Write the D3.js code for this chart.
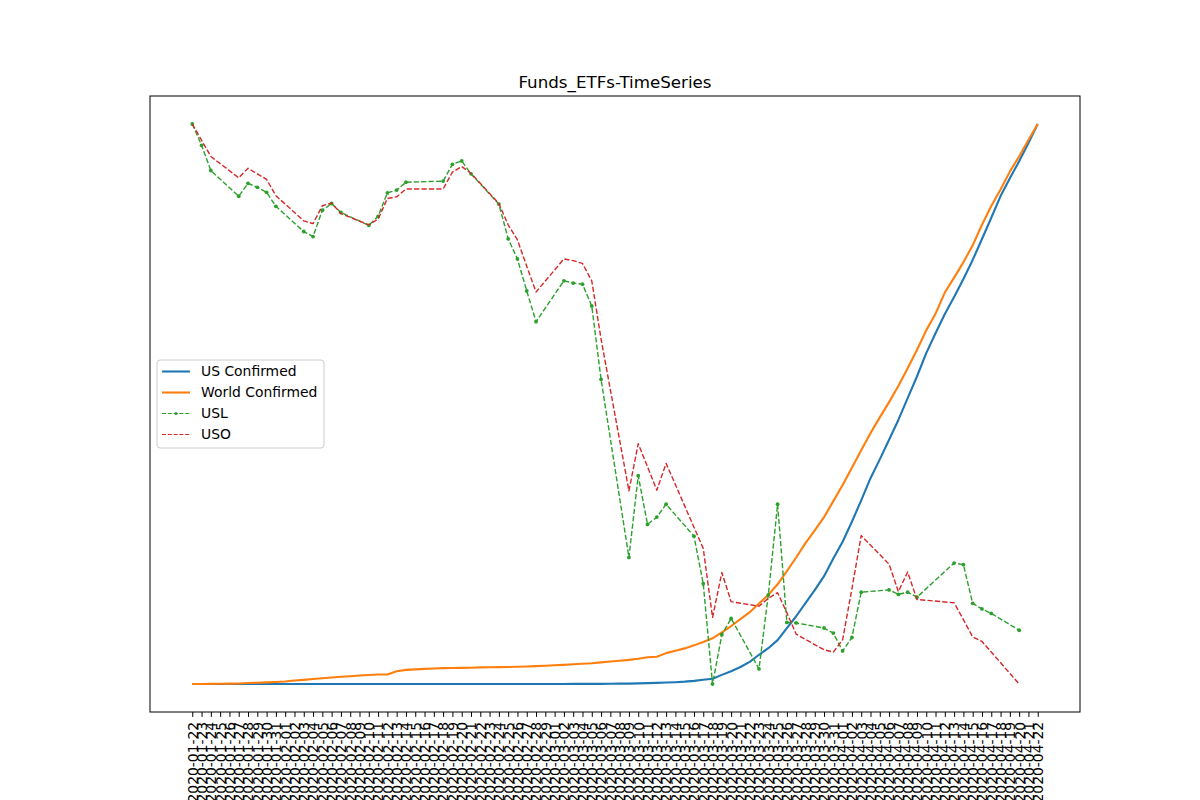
<!DOCTYPE html>
<html>
<head>
<meta charset="utf-8">
<script src="https://cdn.jsdelivr.net/npm/d3@7"></script>
<style>
  body { margin: 0; background: #fff; }
  text { font-family: "DejaVu Sans", sans-serif; }
</style>
</head>
<body>
<div id="chart"></div>
<script>
// every calendar day on the axis
const dates = [
  "2020-01-22","2020-01-23","2020-01-24","2020-01-25","2020-01-26","2020-01-27","2020-01-28","2020-01-29","2020-01-30","2020-01-31",
  "2020-02-01","2020-02-02","2020-02-03","2020-02-04","2020-02-05","2020-02-06","2020-02-07","2020-02-08","2020-02-09","2020-02-10",
  "2020-02-11","2020-02-12","2020-02-13","2020-02-14","2020-02-15","2020-02-16","2020-02-17","2020-02-18","2020-02-19","2020-02-20",
  "2020-02-21","2020-02-22","2020-02-23","2020-02-24","2020-02-25","2020-02-26","2020-02-27","2020-02-28","2020-02-29",
  "2020-03-01","2020-03-02","2020-03-03","2020-03-04","2020-03-05","2020-03-06","2020-03-07","2020-03-08","2020-03-09","2020-03-10",
  "2020-03-11","2020-03-12","2020-03-13","2020-03-14","2020-03-15","2020-03-16","2020-03-17","2020-03-18","2020-03-19","2020-03-20",
  "2020-03-21","2020-03-22","2020-03-23","2020-03-24","2020-03-25","2020-03-26","2020-03-27","2020-03-28","2020-03-29","2020-03-30",
  "2020-03-31","2020-04-01","2020-04-02","2020-04-03","2020-04-04","2020-04-05","2020-04-06","2020-04-07","2020-04-08","2020-04-09",
  "2020-04-10","2020-04-11","2020-04-12","2020-04-13","2020-04-14","2020-04-15","2020-04-16","2020-04-17","2020-04-18","2020-04-19",
  "2020-04-20","2020-04-21","2020-04-22"
];

// cumulative confirmed cases (raw counts, min-max scaled below)
const usConfirmed = [
  1,1,2,2,5,5,5,5,5,7,
  8,8,11,11,11,11,11,11,11,11,12,12,13,13,13,13,13,13,13,13,15,15,15,51,51,57,58,60,68,
  74,98,118,149,217,262,402,518,583,959,1281,1663,2179,2727,3499,4632,6421,7786,13680,19101,
  25493,33276,43847,53740,65778,83836,101657,121478,140886,161807,188172,
  213372,243453,275586,308850,337072,366614,396223,429052,461437,496535,526396,555313,580619,
  607670,636350,667801,699706,732197,759086,784326,811865,840351
];
const worldConfirmed = [
  555,654,941,1434,2118,2927,5578,6166,8234,9927,
  12038,16787,19881,23892,27635,30817,34391,37120,40150,42762,44802,45221,60368,66885,69030,
  71224,73258,75136,75639,76197,76819,78572,78958,79561,80406,81388,82746,84112,86011,
  88369,90306,92840,95120,97886,101801,105847,109821,113590,118620,125875,128352,145205,156101,
  167454,181574,197102,214821,242570,272208,304507,336953,378235,418045,467653,529591,593291,
  660706,720117,782365,857487,
  932605,1013466,1095917,1176060,1249754,1321481,1396476,1480202,1565278,1657526,1735650,
  1834721,1904838,1976191,2056054,2152437,2240190,2317758,2401378,2472259,2549123,2624532
];

// trading days for the two funds
const tradeDates = [
  "2020-01-22","2020-01-23","2020-01-24","2020-01-27","2020-01-28","2020-01-29","2020-01-30","2020-01-31",
  "2020-02-03","2020-02-04","2020-02-05","2020-02-06","2020-02-07","2020-02-10","2020-02-11","2020-02-12",
  "2020-02-13","2020-02-14","2020-02-18","2020-02-19","2020-02-20","2020-02-21","2020-02-24","2020-02-25",
  "2020-02-26","2020-02-27","2020-02-28",
  "2020-03-02","2020-03-03","2020-03-04","2020-03-05","2020-03-06","2020-03-09","2020-03-10","2020-03-11",
  "2020-03-12","2020-03-13","2020-03-16","2020-03-17","2020-03-18","2020-03-19","2020-03-20","2020-03-23",
  "2020-03-24","2020-03-25","2020-03-26","2020-03-27","2020-03-30","2020-03-31",
  "2020-04-01","2020-04-02","2020-04-03","2020-04-06","2020-04-07","2020-04-08","2020-04-09","2020-04-13",
  "2020-04-14","2020-04-15","2020-04-16","2020-04-17","2020-04-20"
];

// normalized fund prices (0..1)
const usl = [
  1.000,0.962,0.917,0.871,0.894,0.887,0.878,0.853,
  0.808,0.799,0.846,0.858,0.842,0.819,0.835,0.877,0.882,0.896,0.898,0.928,0.934,0.911,0.857,0.795,0.759,0.702,0.647,
  0.720,0.716,0.714,0.675,0.544,0.226,0.372,0.285,0.298,0.321,0.264,0.179,0.000,0.088,0.117,0.027,0.159,0.321,0.110,0.109,0.100,0.091,
  0.059,0.083,0.164,0.168,0.160,0.164,0.155,0.216,0.213,0.144,0.134,0.126,0.096
];
const uso = [
  1.000,0.971,0.942,0.904,0.921,0.911,0.901,0.872,
  0.827,0.822,0.854,0.859,0.840,0.820,0.830,0.867,0.870,0.884,0.884,0.914,0.924,0.912,0.858,0.820,0.793,0.746,0.700,
  0.759,0.756,0.751,0.720,0.616,0.345,0.429,0.388,0.346,0.394,0.280,0.242,0.119,0.199,0.147,0.139,0.153,0.163,0.127,0.089,0.061,0.057,
  0.079,0.170,0.265,0.214,0.165,0.200,0.151,0.145,0.115,0.084,0.076,0.057,0.000
];

let margin = { top: 96, right: 120, bottom: 88, left: 150 };
let width = 1200 - margin.left - margin.right;
let height = 800 - margin.top - margin.bottom;

let svg = d3
  .select("#chart")
  .append("svg")
  .attr("width", 1200)
  .attr("height", 800)
  .append("g")
  .attr("transform", "translate(" + margin.left + "," + margin.top + ")");

// matplotlib-like 5% margins on both axes
let x = d3.scalePoint().domain(dates).range([0, width]).padding(4.55);
let y = d3.scaleLinear().domain([-0.05, 1.05]).range([height, 0]);

let usNorm = d3.scaleLinear().domain(d3.extent(usConfirmed)).range([0, 1]);
let worldNorm = d3.scaleLinear().domain(d3.extent(worldConfirmed)).range([0, 1]);

let series = [
  { name: "US Confirmed", color: "#1f77b4", width: 2.1, dash: null, dot: false,
    pts: dates.map((d, i) => [d, usNorm(usConfirmed[i])]) },
  { name: "World Confirmed", color: "#ff7f0e", width: 2.1, dash: null, dot: false,
    pts: dates.map((d, i) => [d, worldNorm(worldConfirmed[i])]) },
  { name: "USL", color: "#2ca02c", width: 1.4, dash: "5.2,2.2", dot: true,
    pts: tradeDates.map((d, i) => [d, usl[i]]) },
  { name: "USO", color: "#d62728", width: 1.4, dash: "5.2,2.2", dot: false,
    pts: tradeDates.map((d, i) => [d, uso[i]]) }
];

let line = d3.line().x((d) => x(d[0])).y((d) => y(d[1]));

series.forEach((s) => {
  svg.append("path")
    .datum(s.pts)
    .attr("fill", "none")
    .attr("stroke", s.color)
    .attr("stroke-width", s.width)
    .attr("stroke-dasharray", s.dash)
    .attr("stroke-linejoin", "round")
    .attr("d", line);
  if (s.dot) {
    svg.selectAll(null)
      .data(s.pts)
      .enter()
      .append("circle")
      .attr("cx", (d) => x(d[0]))
      .attr("cy", (d) => y(d[1]))
      .attr("r", 1.9)
      .attr("fill", s.color);
  }
});

// frame
svg.append("rect")
  .attr("width", width)
  .attr("height", height)
  .attr("fill", "none")
  .attr("stroke", "#000")
  .attr("stroke-width", 1);

// x axis, one tick per day
let xAxis = svg.append("g")
  .attr("transform", "translate(0," + height + ")")
  .call(d3.axisBottom(x).tickSize(4.9).tickPadding(4.9));
xAxis.select(".domain").remove();
xAxis.selectAll("line").attr("stroke", "#000");
xAxis.selectAll("text")
  .attr("font-size", "13.9px")
  .attr("fill", "#000")
  .attr("text-anchor", "end")
  .attr("transform", "rotate(-90)")
  .attr("x", -9.8)
  .attr("y", 0)
  .attr("dy", "0.35em");

svg.append("text")
  .attr("x", width / 2)
  .attr("y", -8.5)
  .attr("text-anchor", "middle")
  .attr("font-size", "16.7px")
  .text("Funds_ETFs-TimeSeries");

// legend
let legend = svg.append("g").attr("transform", "translate(7,264)");
legend.append("rect")
  .attr("width", 167)
  .attr("height", 88)
  .attr("rx", 3)
  .attr("fill", "#fff")
  .attr("fill-opacity", 0.8)
  .attr("stroke", "#cccccc");

series.forEach((s, i) => {
  let row = legend.append("g").attr("transform", "translate(0," + (11.5 + i * 21) + ")");
  row.append("line")
    .attr("x1", 5).attr("x2", 33)
    .attr("stroke", s.color)
    .attr("stroke-width", s.dash ? 1.1 : s.width)
    .attr("stroke-dasharray", s.dash ? "4,1.8" : null);
  if (s.dot) {
    row.append("circle").attr("cx", 19).attr("r", 1.6).attr("fill", s.color);
  }
  row.append("text")
    .attr("x", 44)
    .attr("dy", "0.35em")
    .attr("font-size", "13.9px")
    .text(s.name);
});
</script>
</body>
</html>
